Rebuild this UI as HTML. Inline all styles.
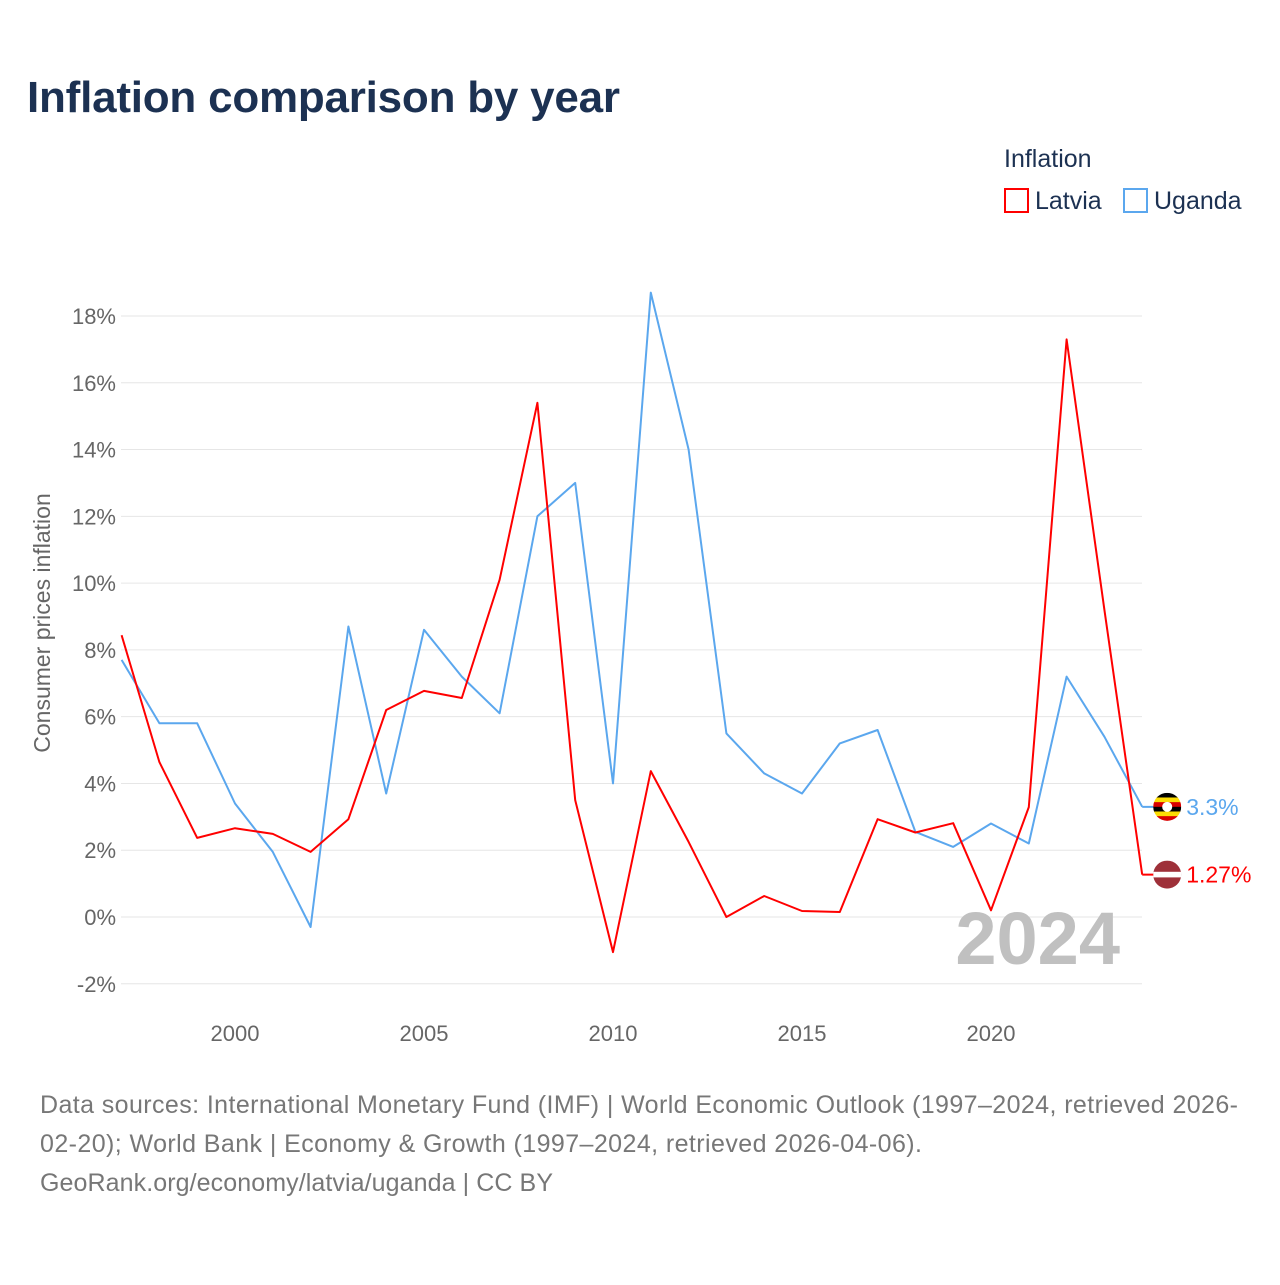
<!DOCTYPE html>
<html><head><meta charset="utf-8"><style>
body{margin:0;background:#fff;font-family:"Liberation Sans",sans-serif}
svg text{font-family:"Liberation Sans",sans-serif}
</style></head><body>
<svg id="c" width="1280" height="1280" viewBox="0 0 1280 1280">
<text x="27" y="112" font-size="44" font-weight="bold" fill="#1c3152" textLength="593">Inflation comparison by year</text>
<text x="1004" y="167" font-size="25" fill="#1c3152">Inflation</text>
<g><rect x="1005" y="189" width="23" height="23" fill="none" stroke="#f00" stroke-width="2"/><text x="1035" y="209" font-size="25" fill="#1c3152">Latvia</text></g>
<g><rect x="1124" y="189" width="23" height="23" fill="none" stroke="#5ba7ee" stroke-width="2"/><text x="1154" y="209" font-size="25" fill="#1c3152">Uganda</text></g>
<text transform="translate(50,623) rotate(-90)" text-anchor="middle" font-size="23" fill="#666">Consumer prices inflation</text>
<g id="grid"></g><g id="xt"></g>
<text x="1120" y="964" text-anchor="end" font-size="74" font-weight="bold" fill="#c0c0c0">2024</text>
<g id="series"></g>
<text x="40" y="1113" font-size="25" fill="#777" textLength="1198">Data sources: International Monetary Fund (IMF) | World Economic Outlook (1997–2024, retrieved 2026-</text>
<text x="40" y="1152" font-size="25" fill="#777" textLength="882">02-20); World Bank | Economy &amp; Growth (1997–2024, retrieved 2026-04-06).</text>
<text x="40" y="1191" font-size="25" fill="#777" textLength="513">GeoRank.org/economy/latvia/uganda | CC BY</text>
</svg>
<script>
const years=[1997,1998,1999,2000,2001,2002,2003,2004,2005,2006,2007,2008,2009,2010,2011,2012,2013,2014,2015,2016,2017,2018,2019,2020,2021,2022,2023,2024];
const latvia=[8.44,4.64,2.37,2.66,2.49,1.95,2.93,6.2,6.77,6.56,10.1,15.4,3.5,-1.05,4.37,2.25,0,0.63,0.18,0.15,2.93,2.53,2.81,0.2,3.29,17.3,9.2,1.27];
const uganda=[7.7,5.8,5.8,3.4,1.95,-0.3,8.7,3.7,8.6,7.2,6.1,12.0,13.0,4.0,18.7,14.0,5.5,4.3,3.7,5.2,5.6,2.55,2.1,2.8,2.2,7.2,5.4,3.3];
const yTicks=[-2,0,2,4,6,8,10,12,14,16,18];
const xTicks=[2000,2005,2010,2015,2020];
const NS="http://www.w3.org/2000/svg";
const X=v=>121.6+(v-1997)*37.8;
const Y=v=>917-v*33.39;
function mk(t,a,p){const e=document.createElementNS(NS,t);for(const k in a)e.setAttribute(k,a[k]);p.appendChild(e);return e;}
const grid=document.getElementById('grid'),xt=document.getElementById('xt'),ser=document.getElementById('series');
yTicks.forEach(v=>{
 const l=mk('line',{x1:121,x2:1142,y1:Y(v),y2:Y(v),stroke:'#e6e6e6'},grid);
 
 
 const t=mk('text',{x:116,y:Y(v)+8,'text-anchor':'end','font-size':22,fill:'#666'},grid);
 t.textContent=v+'%';
 
 
});
xTicks.forEach(v=>{
 const t=mk('text',{x:X(v),y:1041,'text-anchor':'middle','font-size':22,fill:'#666'},xt);
 t.textContent=v;
 
 
});
function line(vals,col,name,label,flag){
 const d=vals.map((v,i)=>(i?'L':'M')+X(years[i]).toFixed(1)+' '+Y(v).toFixed(1)).join(' ');
 const p=mk('path',{d:d,fill:'none',stroke:col,'stroke-width':2,'stroke-linejoin':'round'},ser);
 
 
 const last=vals[vals.length-1],y=Y(last),x=X(years[years.length-1]);
 mk('line',{x1:x,x2:x+16,y1:y,y2:y,stroke:col,'stroke-width':2},ser);
 const g=mk('g',{},ser);
 
 
 flag(g,x+25,y);
 const t=mk('text',{x:x+44,y:y+8,'font-size':23,fill:col},ser);
 t.textContent=label;
 
 
}
line(uganda,'#5ba7ee','uganda-line','3.3%',(g,cx,cy)=>{
 const cols=['#000','#fcdc04','#d90000','#000','#fcdc04','#d90000'];
 const cp=mk('clipPath',{id:'ugc'},g);mk('circle',{cx:cx,cy:cy,r:14},cp);
 const gg=mk('g',{'clip-path':'url(#ugc)'},g);
 cols.forEach((c,i)=>mk('rect',{x:cx-14,y:cy-14+i*28/6,width:28,height:28/6+0.5,fill:c},gg));
 mk('circle',{cx:cx,cy:cy,r:5,fill:'#fff'},gg);
});
line(latvia,'#f00','latvia-line','1.27%',(g,cx,cy)=>{
 const cp=mk('clipPath',{id:'lvc'},g);mk('circle',{cx:cx,cy:cy,r:14},cp);
 const gg=mk('g',{'clip-path':'url(#lvc)'},g);
 mk('rect',{x:cx-14,y:cy-14,width:28,height:28,fill:'#9e3039'},gg);
 mk('rect',{x:cx-14,y:cy-2.8,width:28,height:5.6,fill:'#fff'},gg);
});
</script>
</body></html>
